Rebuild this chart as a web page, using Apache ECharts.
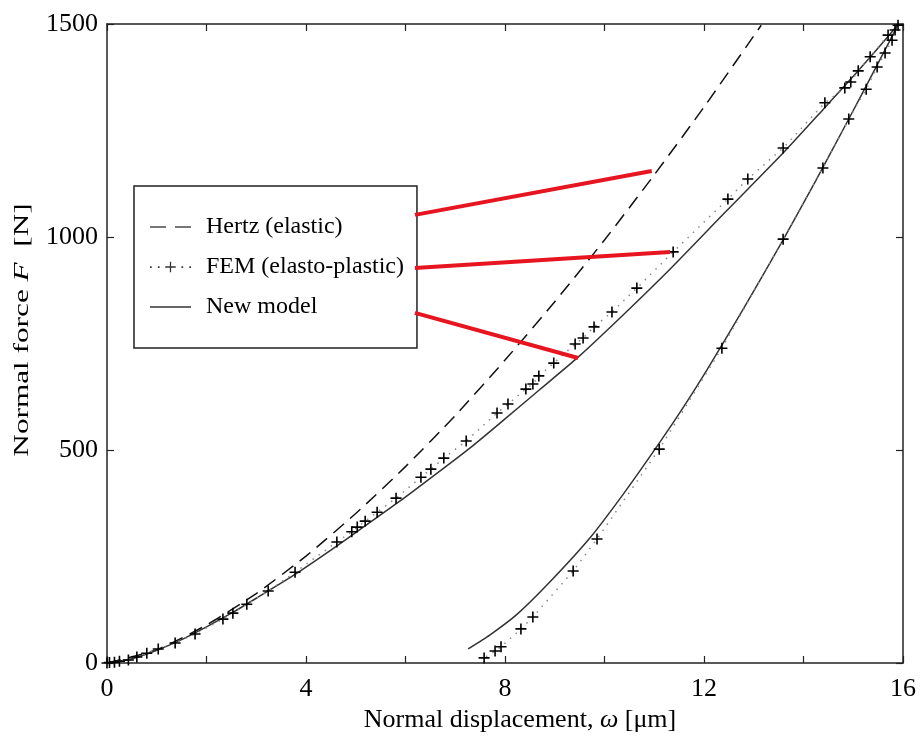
<!DOCTYPE html>
<html><head><meta charset="utf-8">
<script src="https://cdn.jsdelivr.net/npm/echarts@6/dist/echarts.min.js"></script>
<style>html,body{margin:0;padding:0;background:#fff}#c{width:920px;height:742px}</style>
</head><body><div id="c"></div>
<script>
// ---- data ----
const xTickLabels = ['0', '4', '8', '12', '16'];
const yTickLabels = ['0', '500', '1000', '1500'];
const legendNames = ['Hertz (elastic)', 'FEM (elasto-plastic)', 'New model'];

const hertz = [[0,0],[1,31],[2,89],[3,163],[4,251],[5,351],[6,461],[7,581],[8,711],[9,848],[10,993],[11,1146],[12,1305],[13,1472],[13.15,1497]];

const femLoading = [[0,0],[0.05,1],[0.15,2],[0.25,4],[0.43,7],[0.6,14],[0.8,23],[1.03,33],[1.37,47],[1.77,68],[2.33,103],[2.53,117],[2.81,138],[3.24,169],[3.78,213],[4.62,284],[4.92,308],[5.03,319],[5.19,333],[5.43,354],[5.81,387],[6.31,436],[6.51,455],[6.77,481],[7.22,521],[7.84,587],[8.06,608],[8.42,643],[8.56,655],[8.68,674],[8.98,704],[9.41,749],[9.57,763],[9.79,789],[10.15,824],[10.65,880],[11.38,965],[12.48,1089],[12.88,1136],[13.59,1209],[14.43,1315],[14.83,1350],[14.95,1364],[15.10,1390],[15.34,1423],[15.70,1474],[15.84,1486],[15.9,1497]];
const femUnloading = [[15.78,1462],[15.64,1432],[15.48,1399],[15.26,1347],[14.91,1277],[14.39,1162],[13.59,995],[12.36,739],[11.10,502],[9.85,291],[9.37,216],[8.56,108],[8.32,80],[7.92,38],[7.80,28],[7.58,12]];

const modelLoading = [[0,0],[0.5,10],[1,30],[1.5,55],[2,85],[2.5,117],[3,152],[3.74,205],[4.5,265],[5.2,323],[5.9,381],[6.55,438],[7.3,505],[8,573],[8.7,642],[9.47,718],[10.4,820],[11.32,925],[12.4,1055],[13.59,1197],[14.4,1300],[15.1,1390],[15.9,1498]];
const modelUnloading = [[7.26,33],[7.7,66],[8.24,114],[8.9,190],[9.71,294],[10.4,400],[11.1,516],[11.6,603],[12.06,688],[12.8,833],[13.59,993],[14.25,1133],[14.91,1277],[15.4,1386],[15.9,1498]];

// red annotation pointers (data units)
const pointerHertz = [[6.19,1052],[10.95,1155]];
const pointerFem = [[6.19,927],[11.32,965]];
const pointerModel = [[6.19,822],[9.47,716]];

// ---- chart ----
const FONT = '"Liberation Serif", "DejaVu Serif", serif';
const AX = '#222';
const chart = echarts.init(document.getElementById('c'), null, {renderer: 'canvas'});

function xAx(pos, show) {
  return {
    type: 'value', position: pos, min: 0, max: 16, interval: 2,
    axisLine: {show: true, onZero: false, lineStyle: {color: AX, width: 1.5}},
    axisTick: {show: true, inside: true, length: 7, lineStyle: {color: AX, width: 1.2}},
    splitLine: {show: false},
    axisLabel: {show: show, margin: 13, color: '#000', fontFamily: FONT, fontSize: 26,
      formatter: v => xTickLabels.includes(String(v)) ? String(v) : ''}
  };
}
function yAx(pos, show) {
  return {
    type: 'value', position: pos, min: 0, max: 1500, interval: 500,
    axisLine: {show: true, onZero: false, lineStyle: {color: AX, width: 1.5}},
    axisTick: {show: true, inside: true, length: 7, lineStyle: {color: AX, width: 1.2}},
    splitLine: {show: false},
    axisLabel: {show: show, margin: 9, color: '#000', fontFamily: FONT, fontSize: 26,
      formatter: v => yTickLabels.includes(String(v)) ? String(v) : ''}
  };
}
const xBottom = Object.assign(xAx('bottom', true), {
  name: '{a|Normal displacement, }{i|ω}{a| [μm]}', nameLocation: 'middle', nameGap: 37,
  nameTextStyle: {padding: [0, 0, 0, 30], rich: {a: {fontFamily: FONT, fontSize: 26, color: '#000'}, i: {fontFamily: FONT, fontSize: 26, fontStyle: 'italic', color: '#000'}}}
});

const plusPath = 'path://M0,5L10,5M5,0L5,10';
function pointer(data) {
  return {type: 'line', name: '_ptr', data: data, xAxisIndex: 0, yAxisIndex: 0, symbol: 'none', silent: true,
    z: 10, lineStyle: {color: '#e6151f', width: 4}, animation: false};
}
const iconDash = 'path://M0,0H16V2.2H0Z M25,0H41V2.2H25Z';
const iconSolid = 'path://M0,0H41V2H0Z';
const iconFem = 'path://M1,4.3H2.6V5.9H1Z M8.5,4.3H10.1V5.9H8.5Z M15.5,4.4H25.5V5.6H15.5Z M19.9,0H21.1V10H19.9Z M30.9,4.3H32.5V5.9H30.9Z M38.4,4.3H40V5.9H38.4Z';

chart.setOption({
  animation: false,
  backgroundColor: '#fff',
  grid: {left: 107, right: 17, top: 24, bottom: 79, containLabel: false},
  xAxis: [xBottom, xAx('top', false)],
  yAxis: [yAx('left', true), yAx('right', false)],
  legend: {
    data: [
      {name: legendNames[0], icon: iconDash, itemStyle: {color: '#777', borderWidth: 0}},
      {name: legendNames[1], icon: iconFem, itemStyle: {color: '#333', borderWidth: 0}},
      {name: legendNames[2], icon: iconSolid, itemStyle: {color: '#666', borderWidth: 0}}
    ],
    orient: 'vertical', left: 134, top: 186,
    padding: [29, 13, 29, 16], itemGap: 16, itemWidth: 41, itemHeight: 20,
    borderColor: '#222', borderWidth: 1.5, borderRadius: 0, backgroundColor: '#fff',
    textStyle: {fontFamily: FONT, fontSize: 24, color: '#000', padding: [0, 0, 0, 10]},
    selectedMode: false
  },
  graphic: [{
    type: 'text', x: 22, y: 330, rotation: Math.PI / 2, scaleX: 1.42, scaleY: 1,
    style: {text: '{a|Normal force }{i|F}{a|  [N]}', align: 'center', verticalAlign: 'middle',
      rich: {a: {fontFamily: FONT, fontSize: 22, fill: '#000'}, i: {fontFamily: FONT, fontSize: 22, fontStyle: 'italic', fill: '#000'}}}
  }],
  series: [
    {type: 'line', name: legendNames[0], data: hertz, symbol: 'none', smooth: 0.2, z: 3,
      lineStyle: {color: '#111', width: 1.5, type: [14, 8]}, itemStyle: {color: '#777'}},
    {type: 'line', name: legendNames[1], data: femLoading.concat(femUnloading), z: 4,
      symbol: plusPath, symbolSize: 11, showAllSymbol: true,
      itemStyle: {color: '#000', borderColor: '#000', borderWidth: 1.6},
      lineStyle: {color: '#8a8a8a', width: 1.5, type: [1.5, 6]}},
    {type: 'line', name: legendNames[2], data: modelLoading, symbol: 'none', smooth: 0.2, z: 3,
      lineStyle: {color: '#333', width: 1.5}, itemStyle: {color: '#666'}},
    {type: 'line', name: legendNames[2], data: modelUnloading, symbol: 'none', smooth: 0.2, z: 3,
      lineStyle: {color: '#333', width: 1.5}, itemStyle: {color: '#666'}},
    pointer(pointerHertz), pointer(pointerFem), pointer(pointerModel)
  ]
});
</script></body></html>
